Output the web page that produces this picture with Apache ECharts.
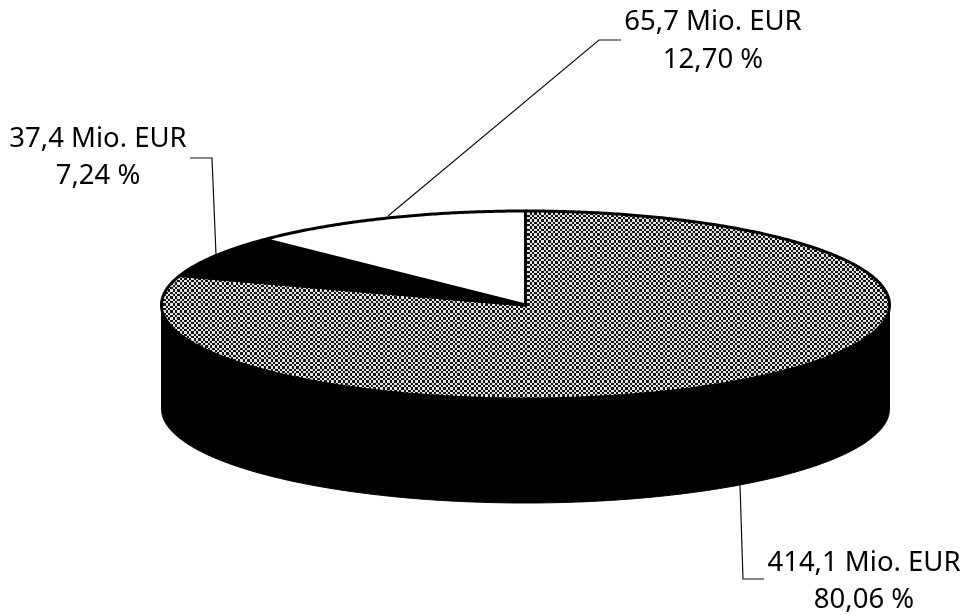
<!DOCTYPE html>
<html>
<head>
<meta charset="utf-8">
<title>Pie</title>
<script src="https://cdn.jsdelivr.net/npm/echarts@6/dist/echarts.min.js"></script>
<style>
html, body { margin: 0; padding: 0; background: #fff; }
#demo { width: 965px; height: 615px; }
</style>
</head>
<body>
<div id="demo"></div>
<script>
// Werte aus der Abbildung
var amounts = ['414,1 Mio. EUR', '37,4 Mio. EUR', '65,7 Mio. EUR'];
var values = [414.1, 37.4, 65.7];
var percents = ['80,06 %', '7,24 %', '12,70 %'];

var total = values.reduce(function (a, b) { return a + b; }, 0);

// Ellipse der Oberseite
var cx = 525.5, cy = 305, rx = 364, ry = 94, depth = 104;

// Karomuster fuer das grosse Segment (Raster ca. 2,3 px wie im Scan)
function checker() {
    var bounds = [0, 2, 5, 7, 9, 12, 14];
    var c = document.createElement('canvas');
    c.width = 14;
    c.height = 14;
    var g = c.getContext('2d');
    g.fillStyle = '#e4e4e4';
    g.fillRect(0, 0, 14, 14);
    g.fillStyle = '#141414';
    for (var i = 0; i < 6; i++) {
        for (var j = 0; j < 6; j++) {
            if ((i + j) % 2 === 0) {
                g.fillRect(bounds[i], bounds[j], bounds[i + 1] - bounds[i], bounds[j + 1] - bounds[j]);
            }
        }
    }
    return c;
}

var fills = [{ image: checker(), repeat: 'repeat' }, '#000', '#fff'];

// Leader lines und Textpositionen je Segment
var leaders = [
    [[740, 485], [743, 579], [764, 579]],
    [[216, 255], [212, 158], [190, 158]],
    [[388, 216], [599, 40], [621, 40]]
];
var labelPos = [[864, 563, 600], [98, 139, 176], [713, 22, 60]];

function onEllipse(angle, dy) {
    return [cx + rx * Math.sin(angle), cy + (dy || 0) - ry * Math.cos(angle)];
}

function arcPoints(from, to, dy) {
    var pts = [];
    var n = Math.max(2, Math.ceil(Math.abs(to - from) * 120));
    for (var i = 0; i <= n; i++) {
        pts.push(onEllipse(from + (to - from) * i / n, dy));
    }
    return pts;
}

function renderSlice(params, api) {
    var idx = params.dataIndex;
    var before = 0;
    for (var i = 0; i < idx; i++) before += values[i];
    var a0 = before / total * Math.PI * 2;
    var a1 = (before + api.value(0)) / total * Math.PI * 2;
    var children = [];

    if (idx === 0) {
        // Seitenwand
        var wall = arcPoints(Math.PI / 2, Math.PI * 1.5, 0)
            .concat(arcPoints(Math.PI * 1.5, Math.PI / 2, depth));
        children.push({
            type: 'polygon',
            shape: { points: wall },
            style: { fill: '#000', stroke: '#000', lineWidth: 1 }
        });
    }

    children.push({
        type: 'polygon',
        shape: { points: [[cx, cy]].concat(arcPoints(a0, a1, 0)) },
        style: { fill: fills[idx], stroke: '#000', lineWidth: 3, lineJoin: 'round' }
    });

    children.push({
        type: 'polyline',
        shape: { points: leaders[idx] },
        style: { fill: null, stroke: '#111', lineWidth: 1.2 }
    });

    var font = '27.5px "Noto Sans"';
    children.push({
        type: 'text',
        style: { x: labelPos[idx][0], y: labelPos[idx][1], text: amounts[idx], font: font, fill: '#000', align: 'center', verticalAlign: 'middle' }
    });
    children.push({
        type: 'text',
        style: { x: labelPos[idx][0], y: labelPos[idx][2], text: percents[idx], font: font, fill: '#000', align: 'center', verticalAlign: 'middle' }
    });

    return { type: 'group', children: children };
}

var myChart = echarts.init(document.getElementById('demo'));

var option = {
    backgroundColor: '#fff',
    animation: false,
    series: [
        {
            type: 'custom',
            coordinateSystem: 'none',
            renderItem: renderSlice,
            data: values.map(function (v) { return [v]; }),
            encode: { value: 0 },
            silent: true
        }
    ]
};

myChart.setOption(option);
</script>
</body>
</html>
